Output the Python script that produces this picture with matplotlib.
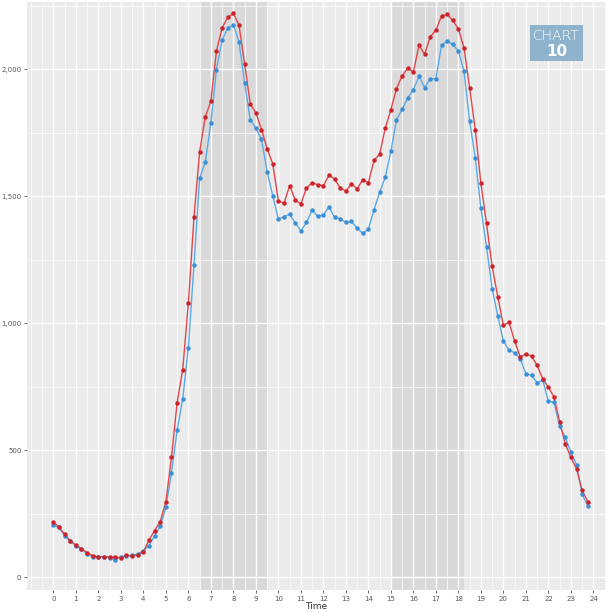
import numpy as np
import matplotlib.pyplot as plt
from matplotlib.patches import Rectangle
from matplotlib.ticker import MultipleLocator, FixedLocator, FuncFormatter

# quarter-hour time points
hours = np.arange(96) * 0.25

red = [217, 197, 168, 143, 126, 112, 96, 84, 80, 80, 79, 79,
       76, 86, 83, 88, 99, 145, 183, 218, 296, 471, 686, 817,
       1077, 1416, 1673, 1811, 1873, 2071, 2162, 2203, 2219, 2173, 2021, 1863,
       1828, 1762, 1687, 1627, 1482, 1471, 1541, 1484, 1469, 1532, 1552, 1545,
       1541, 1582, 1567, 1531, 1520, 1548, 1528, 1565, 1552, 1640, 1665, 1767,
       1840, 1923, 1973, 2004, 1988, 2094, 2058, 2127, 2153, 2209, 2215, 2192,
       2157, 2084, 1925, 1762, 1551, 1392, 1223, 1104, 991, 1003, 929, 866,
       879, 869, 833, 780, 747, 709, 611, 524, 471, 426, 341, 297]

blue = [204, 196, 163, 141, 124, 110, 91, 79, 80, 80, 76, 67,
        79, 83, 86, 90, 104, 124, 162, 200, 274, 409, 577, 701,
        903, 1229, 1570, 1633, 1788, 1998, 2115, 2160, 2175, 2107, 1946, 1801,
        1767, 1723, 1596, 1502, 1409, 1419, 1428, 1394, 1363, 1396, 1445, 1420,
        1426, 1457, 1416, 1411, 1396, 1400, 1373, 1353, 1370, 1446, 1514, 1574,
        1676, 1801, 1841, 1886, 1919, 1971, 1927, 1962, 1962, 2094, 2109, 2098,
        2071, 1991, 1794, 1651, 1453, 1300, 1136, 1028, 929, 893, 883, 860,
        800, 795, 765, 775, 692, 688, 593, 550, 491, 442, 326, 280]

peaks = [(6.5, 9.5), (15.0, 18.25)]
xticks = list(range(0, 25))

fig = plt.figure(figsize=(6.08, 6.12), dpi=100)
ax = fig.add_axes([27/608, 22/612, 579/608, 588/612])
ax.set_facecolor('#ebebeb')

ax.set_xlim(-1.17, 24.56)
ax.set_ylim(-51, 2264)

ax.xaxis.set_major_locator(FixedLocator(xticks))
ax.xaxis.set_minor_locator(MultipleLocator(0.5))
ax.yaxis.set_major_locator(MultipleLocator(500))
ax.yaxis.set_minor_locator(MultipleLocator(250))
ax.yaxis.set_major_formatter(FuncFormatter(lambda v, p: f'{int(v):,}'))

ax.grid(which='major', color='white', lw=1.0, zorder=0)
ax.grid(which='minor', color='white', lw=0.5, zorder=0)
ax.set_axisbelow(True)

for s, e in peaks:
    ax.axvspan(s, e, color='#d9d9d9', lw=0, zorder=0.5)

ax.plot(hours, blue, color='#5aaae6', lw=1.0, zorder=2)
ax.plot(hours, blue, 'o', color='#3a8fd6', ms=2.2, zorder=3)
ax.plot(hours, red, color='#e0464b', lw=1.0, zorder=2)
ax.plot(hours, red, 'o', color='#cc2229', ms=2.2, zorder=3)

for sp in ax.spines.values():
    sp.set_visible(False)
ax.tick_params(which='major', length=2.5, width=0.6, color='#555555',
               labelsize=5, labelcolor='#555555', pad=1.5)
ax.tick_params(which='minor', length=0)
ax.set_xlabel('Time', fontsize=6.5, color='#333333', labelpad=0)

fig.patches.append(Rectangle((530/608, 1 - 61/612), 53/608, 36/612,
                             transform=fig.transFigure, facecolor='#8fb3cc',
                             edgecolor='none', zorder=5))
fig.text(556.5/608, 1 - 36/612, 'CHART', color='white', fontsize=10,
         ha='center', va='center', fontweight='light', zorder=6)
fig.text(556.5/608, 1 - 51/612, '10', color='white', fontsize=11,
         ha='center', va='center', fontweight='bold', zorder=6)

fig.savefig('out.png', dpi=100)
